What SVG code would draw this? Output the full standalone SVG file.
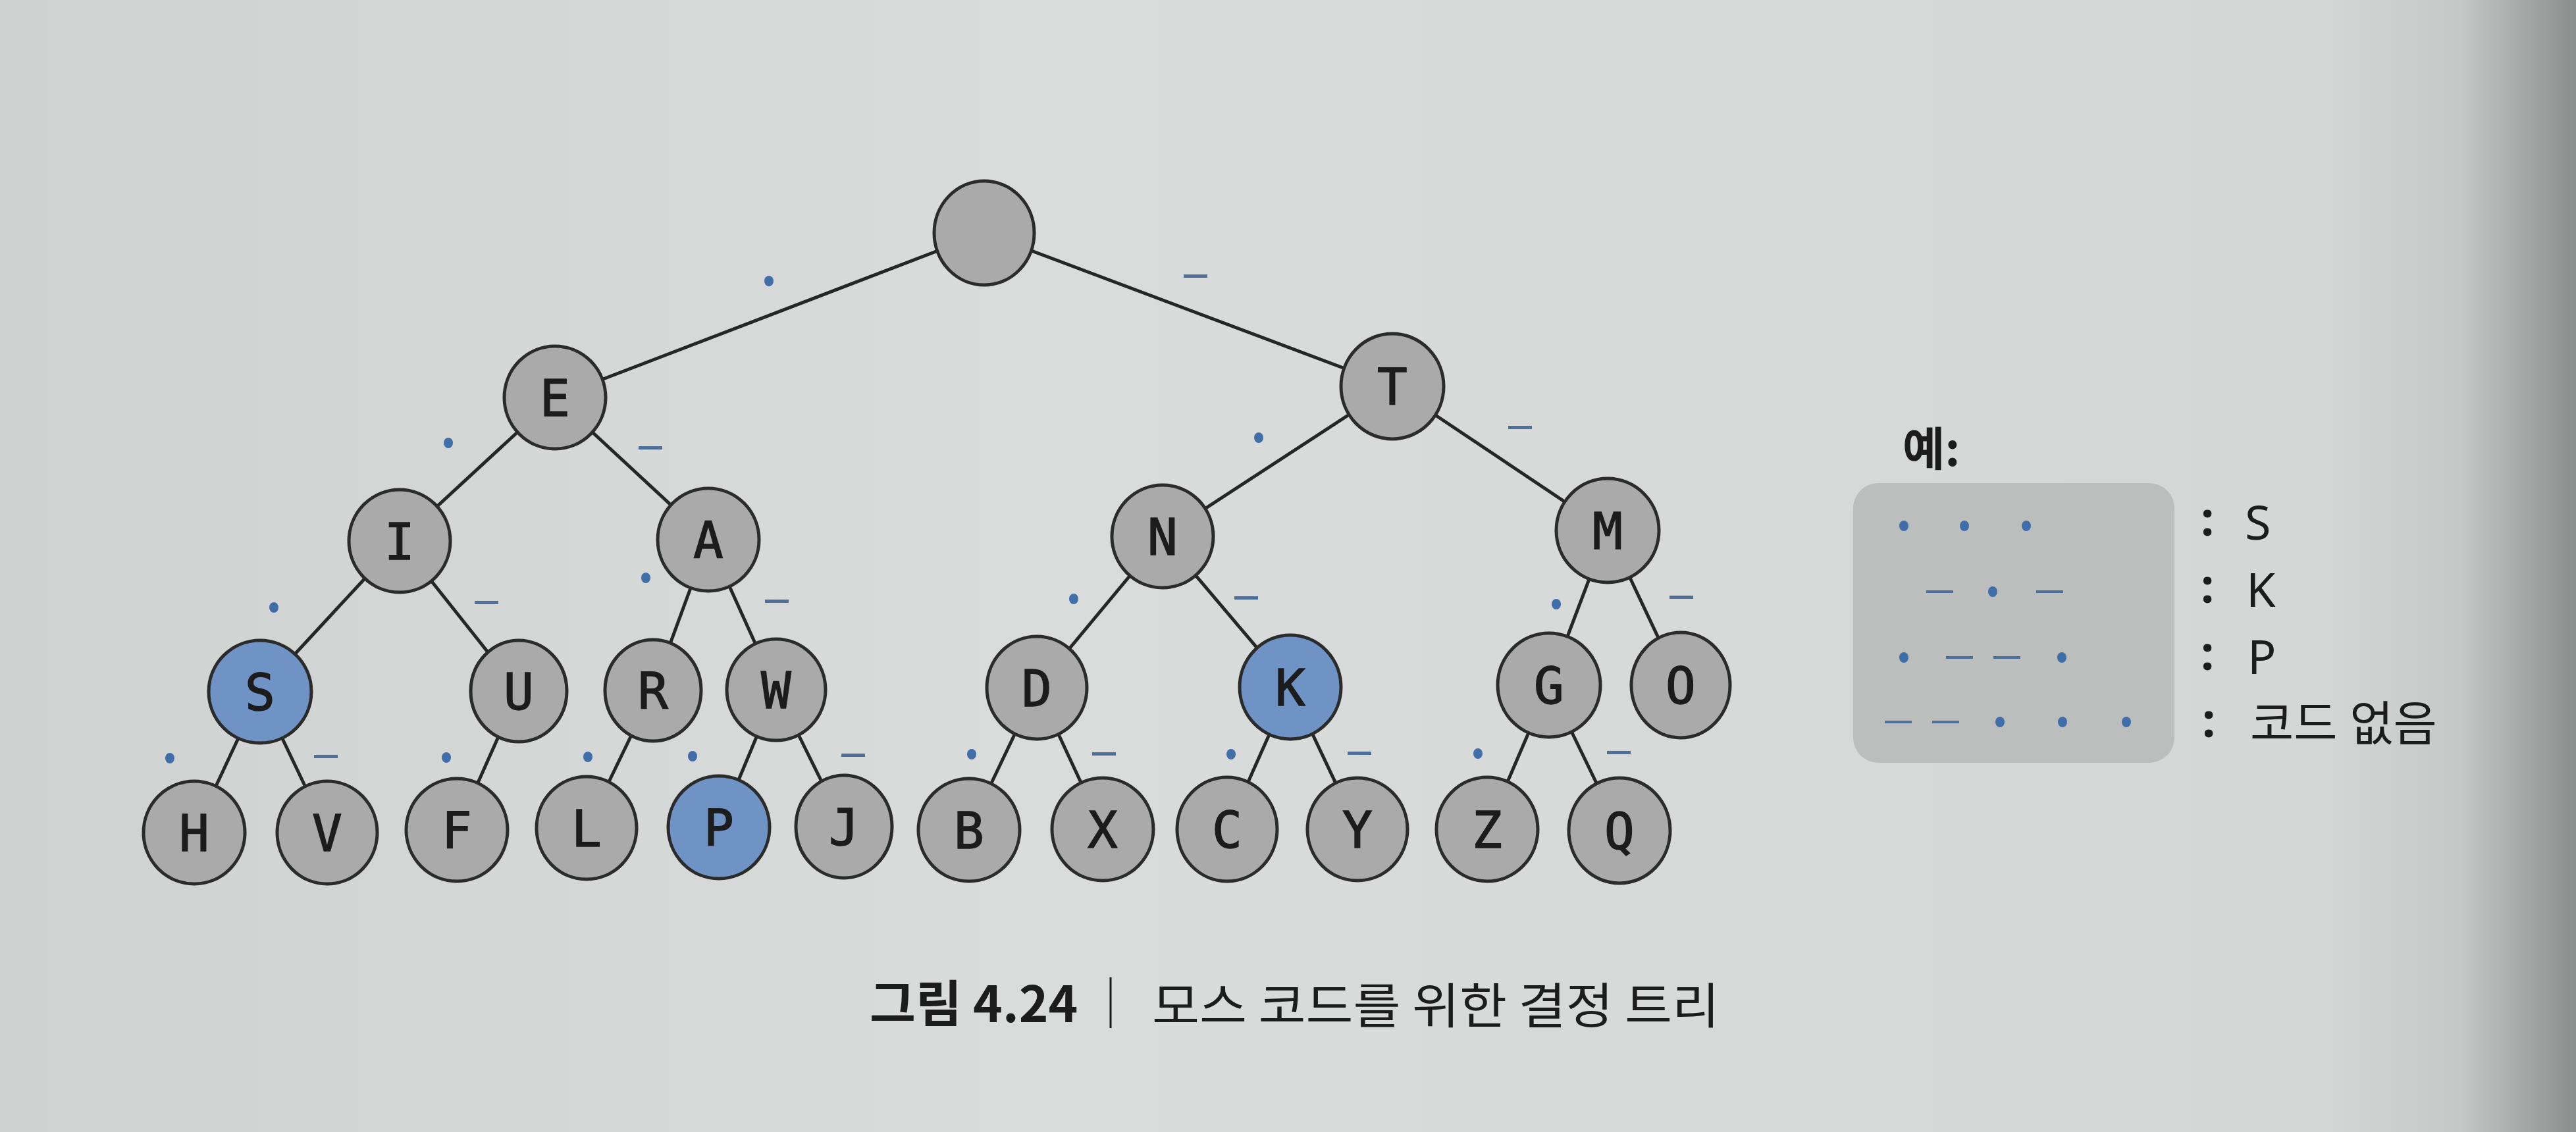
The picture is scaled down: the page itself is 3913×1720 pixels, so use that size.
<svg xmlns="http://www.w3.org/2000/svg" width="3913" height="1720" viewBox="0 0 3913 1720">
<defs>
<linearGradient id="bg" x1="0" y1="0" x2="1" y2="0">
<stop offset="0" stop-color="#cfd2d1"/>
<stop offset="0.4" stop-color="#d9dcdb"/>
<stop offset="0.9" stop-color="#d4d7d6"/>
<stop offset="0.955" stop-color="#c6c8c7"/>
<stop offset="1" stop-color="#8c8e8d"/>
</linearGradient>
<style>
.n ellipse{fill:#a9aaa9;stroke:#2b2b2b;stroke-width:5}
.n.hl ellipse{fill:#6e93c4}
.n text{font-family:"DejaVu Sans Mono",monospace;font-size:76px;fill:#1c1c1c;stroke:#1c1c1c;stroke-width:1.5;text-anchor:middle}
#connectors line{stroke:#262626;stroke-width:5}
.dot{fill:#3f6ea8}
.dash{fill:#4d6f98}
.lg{font-family:"Noto Sans","Noto Sans CJK KR",sans-serif;font-size:72px;fill:#1c1c1c}
.col{font-family:"Noto Sans","Noto Sans CJK KR",sans-serif;font-size:72px;font-weight:bold;fill:#1c1c1c}
</style>
</defs>
<rect width="3913" height="1720" fill="url(#bg)"/>

<g id="connectors">
<line x1="1495" y1="354" x2="843" y2="604"/>
<line x1="1495" y1="354" x2="2115" y2="587"/>
<line x1="843" y1="604" x2="607" y2="822"/>
<line x1="843" y1="604" x2="1076" y2="820"/>
<line x1="2115" y1="587" x2="1766" y2="815"/>
<line x1="2115" y1="587" x2="2442" y2="806"/>
<line x1="607" y1="822" x2="395" y2="1051"/>
<line x1="607" y1="822" x2="788" y2="1050"/>
<line x1="1076" y1="820" x2="992" y2="1049"/>
<line x1="1076" y1="820" x2="1179" y2="1048"/>
<line x1="1766" y1="815" x2="1575" y2="1045"/>
<line x1="1766" y1="815" x2="1960" y2="1044"/>
<line x1="2442" y1="806" x2="2353" y2="1041"/>
<line x1="2442" y1="806" x2="2553" y2="1041"/>
<line x1="395" y1="1051" x2="295" y2="1265"/>
<line x1="395" y1="1051" x2="497" y2="1265"/>
<line x1="788" y1="1050" x2="694" y2="1261"/>
<line x1="992" y1="1049" x2="891" y2="1258"/>
<line x1="1179" y1="1048" x2="1092" y2="1257"/>
<line x1="1179" y1="1048" x2="1282" y2="1256"/>
<line x1="1575" y1="1045" x2="1472" y2="1261"/>
<line x1="1575" y1="1045" x2="1675" y2="1260"/>
<line x1="1960" y1="1044" x2="1864" y2="1260"/>
<line x1="1960" y1="1044" x2="2062" y2="1260"/>
<line x1="2353" y1="1041" x2="2259" y2="1260"/>
<line x1="2353" y1="1041" x2="2460" y2="1262"/>
</g>

<g id="edge-labels">
<ellipse class="dot" cx="1168" cy="427" rx="7" ry="8"/><rect class="dash" x="1798" y="417" width="36" height="5"/>
<ellipse class="dot" cx="681" cy="673" rx="7" ry="8"/><rect class="dash" x="970" y="678" width="36" height="5"/>
<ellipse class="dot" cx="1912" cy="665" rx="7" ry="8"/><rect class="dash" x="2291" y="647" width="36" height="5"/>
<ellipse class="dot" cx="416" cy="923" rx="7" ry="8"/><rect class="dash" x="721" y="913" width="36" height="5"/>
<ellipse class="dot" cx="981" cy="878" rx="7" ry="8"/><rect class="dash" x="1162" y="911" width="36" height="5"/>
<ellipse class="dot" cx="1631" cy="910" rx="7" ry="8"/><rect class="dash" x="1875" y="906" width="36" height="5"/>
<ellipse class="dot" cx="2364" cy="918" rx="7" ry="8"/><rect class="dash" x="2536" y="905" width="36" height="5"/>
<ellipse class="dot" cx="258" cy="1152" rx="7" ry="8"/><rect class="dash" x="477" y="1147" width="36" height="5"/>
<ellipse class="dot" cx="678" cy="1151" rx="7" ry="8"/>
<ellipse class="dot" cx="893" cy="1150" rx="7" ry="8"/>
<ellipse class="dot" cx="1052" cy="1149" rx="7" ry="8"/><rect class="dash" x="1278" y="1145" width="36" height="5"/>
<ellipse class="dot" cx="1476" cy="1146" rx="7" ry="8"/><rect class="dash" x="1659" y="1143" width="36" height="5"/>
<ellipse class="dot" cx="1870" cy="1146" rx="7" ry="8"/><rect class="dash" x="2047" y="1142" width="36" height="5"/>
<ellipse class="dot" cx="2245" cy="1145" rx="7" ry="8"/><rect class="dash" x="2441" y="1141" width="36" height="5"/>
</g>

<g id="node-root" class="n"><ellipse cx="1495" cy="354" rx="76" ry="79"/></g>
<g id="node-E" class="n"><ellipse cx="843" cy="604" rx="77" ry="78"/><text x="843" y="632">E</text></g>
<g id="node-T" class="n"><ellipse cx="2115" cy="587" rx="78" ry="80"/><text x="2115" y="615">T</text></g>
<g id="node-I" class="n"><ellipse cx="607" cy="822" rx="77" ry="78"/><text x="607" y="850">I</text></g>
<g id="node-A" class="n"><ellipse cx="1076" cy="820" rx="77" ry="78"/><text x="1076" y="848">A</text></g>
<g id="node-N" class="n"><ellipse cx="1766" cy="815" rx="77" ry="78"/><text x="1766" y="843">N</text></g>
<g id="node-M" class="n"><ellipse cx="2442" cy="806" rx="78" ry="79"/><text x="2442" y="834">M</text></g>
<g id="node-S" class="n hl"><ellipse cx="395" cy="1051" rx="78" ry="78"/><text x="395" y="1079">S</text></g>
<g id="node-U" class="n"><ellipse cx="788" cy="1050" rx="73" ry="77"/><text x="788" y="1078">U</text></g>
<g id="node-R" class="n"><ellipse cx="992" cy="1049" rx="73" ry="77"/><text x="992" y="1077">R</text></g>
<g id="node-W" class="n"><ellipse cx="1179" cy="1048" rx="75" ry="77"/><text x="1179" y="1076">W</text></g>
<g id="node-D" class="n"><ellipse cx="1575" cy="1045" rx="76" ry="78"/><text x="1575" y="1073">D</text></g>
<g id="node-K" class="n hl"><ellipse cx="1960" cy="1044" rx="77" ry="79"/><text x="1960" y="1072">K</text></g>
<g id="node-G" class="n"><ellipse cx="2353" cy="1041" rx="78" ry="79"/><text x="2353" y="1069">G</text></g>
<g id="node-O" class="n"><ellipse cx="2553" cy="1041" rx="75" ry="80"/><text x="2553" y="1069">O</text></g>
<g id="node-H" class="n"><ellipse cx="295" cy="1265" rx="77" ry="78"/><text x="295" y="1293">H</text></g>
<g id="node-V" class="n"><ellipse cx="497" cy="1265" rx="76" ry="78"/><text x="497" y="1293">V</text></g>
<g id="node-F" class="n"><ellipse cx="694" cy="1261" rx="77" ry="78"/><text x="694" y="1289">F</text></g>
<g id="node-L" class="n"><ellipse cx="891" cy="1258" rx="76" ry="78"/><text x="891" y="1286">L</text></g>
<g id="node-P" class="n hl"><ellipse cx="1092" cy="1257" rx="77" ry="78"/><text x="1092" y="1285">P</text></g>
<g id="node-J" class="n"><ellipse cx="1282" cy="1256" rx="73" ry="78"/><text x="1282" y="1284">J</text></g>
<g id="node-B" class="n"><ellipse cx="1472" cy="1261" rx="77" ry="78"/><text x="1472" y="1289">B</text></g>
<g id="node-X" class="n"><ellipse cx="1675" cy="1260" rx="77" ry="78"/><text x="1675" y="1288">X</text></g>
<g id="node-C" class="n"><ellipse cx="1864" cy="1260" rx="76" ry="79"/><text x="1864" y="1288">C</text></g>
<g id="node-Y" class="n"><ellipse cx="2062" cy="1260" rx="76" ry="78"/><text x="2062" y="1288">Y</text></g>
<g id="node-Z" class="n"><ellipse cx="2259" cy="1260" rx="77" ry="79"/><text x="2259" y="1288">Z</text></g>
<g id="node-Q" class="n"><ellipse cx="2460" cy="1262" rx="77" ry="80"/><text x="2460" y="1290">Q</text></g>

<g id="legend">
<text x="2890" y="708" font-family="'Noto Sans CJK KR',sans-serif" font-size="70" font-weight="bold" fill="#1c1c1c">예:</text>
<rect x="2815" y="734" width="488" height="425" rx="38" ry="38" fill="#bcbebd"/>
<ellipse class="dot" cx="2892" cy="799" rx="7" ry="8"/><ellipse class="dot" cx="2984" cy="799" rx="7" ry="8"/><ellipse class="dot" cx="3078" cy="799" rx="7" ry="8"/>
<rect class="dash" x="2926" y="897" width="41" height="4"/><ellipse class="dot" cx="3027" cy="899" rx="7" ry="8"/><rect class="dash" x="3093" y="897" width="41" height="4"/>
<ellipse class="dot" cx="2892" cy="999" rx="7" ry="8"/><rect class="dash" x="2956" y="997" width="41" height="4"/><rect class="dash" x="3028" y="997" width="41" height="4"/><ellipse class="dot" cx="3132" cy="999" rx="7" ry="8"/>
<rect class="dash" x="2863" y="1095" width="41" height="4"/><rect class="dash" x="2935" y="1095" width="41" height="4"/><ellipse class="dot" cx="3038" cy="1097" rx="7" ry="8"/><ellipse class="dot" cx="3133" cy="1097" rx="7" ry="8"/><ellipse class="dot" cx="3230" cy="1097" rx="7" ry="8"/>
<text class="col" x="3343" y="814">:</text><text class="lg" x="3410" y="820">S</text>
<text class="col" x="3343" y="916">:</text><text class="lg" x="3412" y="922">K</text>
<text class="col" x="3343" y="1018">:</text><text class="lg" x="3414" y="1024">P</text>
<text class="col" x="3345" y="1120">:</text><text class="lg" x="3418" y="1125">코드 없음</text>
</g>

<g id="caption">
<text x="1321" y="1553" font-family="'Noto Sans CJK KR',sans-serif" font-size="76" font-weight="bold" fill="#1c1c1c">그림 4.24</text>
<line x1="1687" y1="1485" x2="1687" y2="1562" stroke="#1c1c1c" stroke-width="3"/>
<text x="1750" y="1555" font-family="'Noto Sans CJK KR',sans-serif" font-size="74" fill="#1c1c1c" textLength="862" lengthAdjust="spacingAndGlyphs">모스 코드를 위한 결정 트리</text>
</g>
</svg>
